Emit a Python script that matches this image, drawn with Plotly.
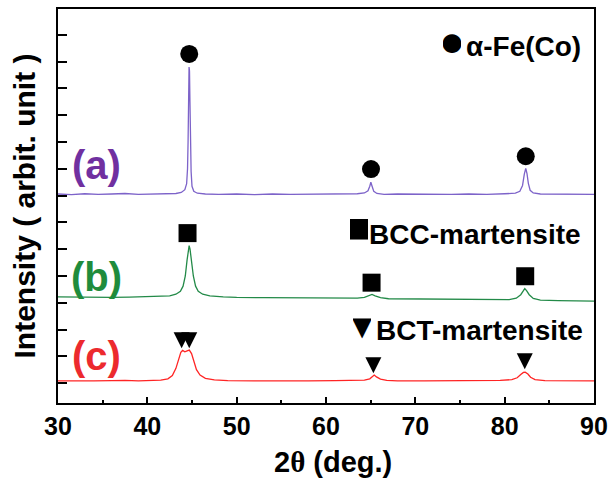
import plotly.graph_objects as go

# ---------------- data ----------------
two_theta_a = [30.0, 31.5, 33.0, 34.5, 36.0, 37.5, 39.0, 40.5, 42.0, 43.2, 43.8, 44.2, 44.4, 44.5,
               44.56, 44.62, 44.67, 44.72, 44.77, 44.83, 44.9, 45.0, 45.2, 45.6, 46.5, 48.0, 50.0,
               52.0, 54.0, 56.0, 58.0, 60.0, 62.0, 63.5, 64.3, 64.7, 64.9, 65.02, 65.15, 65.35,
               65.7, 66.5, 68.0, 70.0, 72.0, 74.0, 76.0, 78.0, 80.0, 81.2, 81.7, 82.0, 82.2, 82.36,
               82.5, 82.65, 82.85, 83.2, 84.0, 86.0, 88.0, 90.0]
intensity_a = [706, 704, 707, 705, 706, 708, 705, 706, 707, 708, 712, 722, 745, 800,
               900, 1050, 1180, 1165, 1050, 900, 790, 735, 716, 709, 706, 705, 706,
               704, 706, 705, 706, 705, 706, 707, 710, 718, 735, 750, 736, 716,
               708, 705, 706, 705, 706, 705, 706, 705, 707, 709, 716, 738, 780, 802,
               782, 746, 720, 710, 706, 705, 706, 705]

two_theta_b = [30.0, 32.0, 34.0, 36.0, 38.0, 40.0, 41.5, 42.5, 43.2, 43.7, 44.0, 44.25, 44.45,
               44.6, 44.68, 44.78, 44.95, 45.15, 45.4, 45.7, 46.2, 47.0, 48.5, 50.0, 53.0, 56.0,
               59.0, 62.0, 63.5, 64.3, 64.8, 65.15, 65.5, 66.1, 67.0, 70.0, 73.0, 76.0, 79.0,
               80.5, 81.3, 81.8, 82.1, 82.25, 82.45, 82.75, 83.2, 84.0, 86.0, 88.0, 90.0]
intensity_b = [322, 321, 322, 320, 321, 322, 323, 326, 332, 343, 362, 400, 460,
               505, 513, 500, 455, 400, 362, 343, 332, 326, 322, 320, 319, 318,
               317, 316, 317, 320, 325, 331, 326, 319, 315, 314, 313, 312, 311,
               312, 317, 330, 345, 353, 345, 330, 316, 310, 308, 307, 306]

two_theta_c = [30.0, 32.0, 34.0, 36.0, 37.5, 39.0, 40.5, 41.5, 42.3, 42.8, 43.2, 43.5, 43.75,
               43.95, 44.2, 44.45, 44.7, 44.95, 45.2, 45.5, 45.9, 46.5, 47.5, 49.0, 52.0, 55.0,
               58.0, 61.0, 63.0, 64.3, 64.9, 65.2, 65.4, 65.65, 66.1, 66.8, 68.0, 71.0, 74.0,
               77.0, 79.5, 80.8, 81.4, 81.8, 82.1, 82.3, 82.6, 82.9, 83.4, 84.5, 87.0, 90.0]
intensity_c = [8, 7, 8, 9, 10, 8, 9, 11, 16, 28, 55, 90, 115,
               122, 117, 120, 123, 110, 80, 50, 30, 18, 12, 9, 8, 7,
               8, 9, 9, 11, 16, 24, 30, 23, 15, 10, 8, 8, 9,
               8, 10, 13, 20, 32, 40, 41, 34, 22, 13, 9, 8, 8]

# peak markers
alpha_x = [44.69, 65.04, 82.36]
alpha_y = [1229, 799, 847]
bcc_x = [44.5, 65.1, 82.3]
bcc_y = [560, 375, 399]
bct_x = [43.84, 44.69, 65.3, 82.25]   # tip of each triangle
bct_y = [130, 130, 37, 52]

sample_labels = ["(a)", "(b)", "(c)"]
sample_label_y = [814, 398, 100]
phase_symbols = ["●", "■", "▼"]
phase_names = ["α-Fe(Co)", "BCC-martensite", "BCT-martensite"]

x_ticks = [30, 40, 50, 60, 70, 80, 90]

# ---------------- styles ----------------
FONT = "Liberation Sans, Arial, sans-serif"
line_colors = ["#7d63c9", "#238a48", "#ff2424"]
text_colors = ["#7030a0", "#1f8c3c", "#ec2a2e"]

fig = go.Figure()
for xs, ys, c in [(two_theta_a, intensity_a, line_colors[0]),
                  (two_theta_b, intensity_b, line_colors[1]),
                  (two_theta_c, intensity_c, line_colors[2])]:
    fig.add_trace(go.Scatter(x=xs, y=ys, mode="lines", line=dict(color=c, width=1.3),
                             showlegend=False, hoverinfo="skip"))

fig.add_trace(go.Scatter(x=alpha_x, y=alpha_y, mode="markers",
                         marker=dict(symbol="circle", size=18, color="black"),
                         showlegend=False, hoverinfo="skip"))
fig.add_trace(go.Scatter(x=bcc_x, y=bcc_y, mode="markers",
                         marker=dict(symbol="square", size=18, color="black"),
                         showlegend=False, hoverinfo="skip"))
fig.add_trace(go.Scatter(x=bct_x, y=bct_y, mode="markers",
                         marker=dict(symbol="arrow-down", size=16, color="black"),
                         showlegend=False, hoverinfo="skip"))

annotations = []
for lab, yv, col in zip(sample_labels, sample_label_y, text_colors):
    annotations.append(dict(x=34.3, y=yv, xref="x", yref="y", text=lab, showarrow=False,
                            xanchor="center", yanchor="middle",
                            font=dict(family=FONT, size=40, color=col, weight="bold")))

# phase key: glyph position (paper) and text left edge (paper)
key_layout = [  # (glyph_x, glyph_y, glyph_size, text_x, text_y)
    (0.7350, 0.921, 44, 0.7595, 0.906),
    (0.5610, 0.4450, 42, 0.5790, 0.4285),
    (0.5670, 0.1960, 34, 0.5915, 0.1843),
]
for sym, name, (gx, gy, gs, tx, ty) in zip(phase_symbols, phase_names, key_layout):
    annotations.append(dict(x=gx, y=gy, xref="paper", yref="paper", text=sym, showarrow=False,
                            xanchor="center", yanchor="middle", width=18, borderpad=0,
                            font=dict(family=FONT, size=gs, color="black")))
    annotations.append(dict(x=tx, y=ty, xref="paper", yref="paper", text=name, showarrow=False,
                            xanchor="left", yanchor="middle", borderpad=0,
                            font=dict(family=FONT, size=28, color="black", weight="bold")))

# x-axis title
annotations.append(dict(x=0.513, y=-0.149, xref="paper", yref="paper",
                        text="2<span style='font-family:Liberation Serif, Times New Roman, serif'>θ</span> (deg.)",
                        showarrow=False, xanchor="center", yanchor="middle",
                        font=dict(family=FONT, size=29, color="black", weight="bold")))

fig.update_layout(
    width=615, height=481,
    margin=dict(l=58, r=15, t=7, b=78),
    paper_bgcolor="white", plot_bgcolor="white",
    font=dict(family=FONT, color="black", weight="bold"),
    annotations=annotations,
    xaxis=dict(range=[30, 90], tickvals=x_ticks, ticks="inside", ticklen=6, tickwidth=2,
               tickcolor="black", ticklabelstandoff=0,
               minor=dict(dtick=5, tick0=30, ticks="inside", ticklen=3, tickwidth=1.5,
                          tickcolor="black", showgrid=False),
               showline=True, linewidth=2, linecolor="black", mirror=True,
               showgrid=False, zeroline=False,
               tickfont=dict(family=FONT, size=25, color="black", weight="bold")),
    yaxis=dict(range=[-74.3, 1396.8], tick0=0, dtick=100, ticks="inside", ticklen=9,
               tickwidth=1.5, tickcolor="black", showticklabels=False,
               showline=True, linewidth=2, linecolor="black", mirror=True,
               showgrid=False, zeroline=False,
               title=dict(text="Intensity ( arbit. unit )", standoff=12,
                          font=dict(family=FONT, size=30, color="black", weight="bold"))),
)

fig.write_html("out.html")
